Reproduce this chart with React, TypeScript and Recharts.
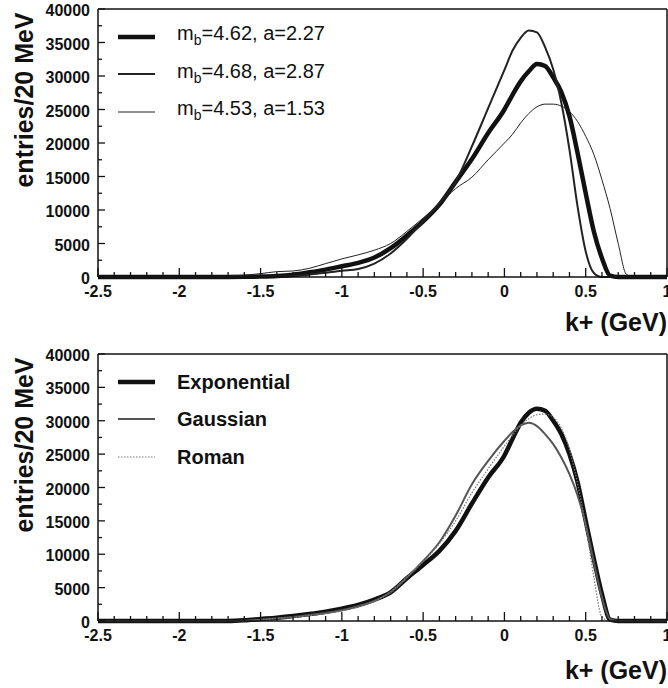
import React from "react";
import { Label, Legend, Line, LineChart, ReferenceLine, XAxis, YAxis } from "recharts";

// k+ grid (GeV) shared by every curve
const kValues = [-2.5, -2, -1.7, -1.6, -1.5, -1.4, -1.3, -1.2, -1.1, -1.0, -0.9, -0.8, -0.7, -0.6, -0.5, -0.4, -0.3, -0.2, -0.1, 0,
    0.05, 0.1, 0.15, 0.2, 0.25, 0.3, 0.35, 0.4, 0.45, 0.5, 0.55, 0.6, 0.65, 0.7, 0.75, 0.8, 1.0];

// top panel: three (m_b, a) choices
const fitA = [0, 0, 0, 20, 60, 150, 350, 700, 1100, 1600, 2100, 2900, 4300, 6200, 8300, 10800, 14200, 17600, 21500, 25000,
    27200, 29200, 30700, 31800, 31500, 29800, 27600, 24000, 18500, 12500, 6800, 2800, 200, 0, 0, 0, 0];
const fitB = [0, 0, 0, 0, 20, 60, 150, 350, 650, 950, 1200, 2000, 3500, 5700, 8300, 11000, 14200, 19500, 25200, 30900,
    33800, 35700, 36800, 36500, 34300, 31000, 26000, 19000, 10500, 3800, 600, 0, 0, 0, 0, 0, 0];
const fitC = [0, 0, 100, 250, 500, 800, 900, 1300, 2000, 2700, 3300, 4000, 5000, 6800, 8800, 10900, 13200, 14900, 17500, 20000,
    21300, 23000, 24400, 25400, 25800, 25800, 25500, 24700, 23200, 21000, 18300, 14500, 10200, 5000, 400, 0, 0];

// bottom panel: shape functions
const exponential = [0, 0, 0, 100, 300, 500, 750, 1050, 1400, 1850, 2400, 3200, 4300, 6400, 8400, 10500, 13500, 17600, 21500, 24800,
    27300, 29700, 31200, 31800, 31500, 30000, 28000, 25000, 20800, 15000, 9300, 4000, 200, 0, 0, 0, 0];
const gaussian = [0, 0, 0, 50, 200, 400, 600, 900, 1200, 1600, 2200, 3000, 4300, 6500, 9000, 11800, 15800, 20500, 24000, 27000,
    28300, 29300, 29700, 29200, 28000, 26500, 24500, 22000, 18800, 14500, 8800, 3500, 300, 0, 0, 0, 0];
const roman = [0, 0, 0, 50, 200, 400, 550, 800, 1100, 1500, 2100, 3000, 4400, 6600, 8900, 11600, 15000, 19200, 22800, 26200,
    27800, 29300, 30300, 30900, 31000, 30500, 28900, 25700, 20600, 14300, 6600, 600, 0, 0, 0, 0, 0];

const xTicks = Array.from({length: 36}, (_, i) => (i - 25) / 10);
const yTicks = Array.from({length: 17}, (_, i) => i * 2500);

const FONT = "'Liberation Sans', Arial, Helvetica, sans-serif";

type Series = {
    key: string;
    name: string;
    values: number[];
    color: string;
    width: number;
    dash?: string;
};

const topSeries: Series[] = [
    {key: "a", name: "m_b=4.62, a=2.27", values: fitA, color: "#111", width: 4.5},
    {key: "b", name: "m_b=4.68, a=2.87", values: fitB, color: "#222", width: 2},
    {key: "c", name: "m_b=4.53, a=1.53", values: fitC, color: "#222", width: 1},
];

const bottomSeries: Series[] = [
    {key: "exp", name: "Exponential", values: exponential, color: "#111", width: 4.5},
    {key: "gau", name: "Gaussian", values: gaussian, color: "#555", width: 2},
    {key: "rom", name: "Roman", values: roman, color: "#777", width: 1.2, dash: "1.5 1.5"},
];

const XTick = (props: any) => {
    const {x, y, payload} = props;
    const v = payload.value;
    const major = Math.abs(v * 2 - Math.round(v * 2)) < 1e-6;
    return (
        <g>
            <line x1={x} x2={x} y1={y} y2={y - (major ? 9 : 5)} stroke="#111" strokeWidth={1.3} />
            {major && (
                <text x={x} y={y + 20} textAnchor="middle" fontFamily={FONT} fontWeight="bold" fontSize={16} fill="#111">
                    {String(v)}
                </text>
            )}
        </g>
    );
};

const YTick = (props: any) => {
    const {x, y, payload} = props;
    const v = payload.value;
    const major = v % 5000 === 0;
    return (
        <g>
            <line x1={x} x2={x + (major ? 7 : 4)} y1={y} y2={y} stroke="#111" strokeWidth={1.3} />
            {major && (
                <text x={x - 8} y={y + 7} textAnchor="end" fontFamily={FONT} fontWeight="bold" fontSize={16} fill="#111">
                    {String(v)}
                </text>
            )}
        </g>
    );
};

const renderName = (name: string) => {
    if (!name.startsWith("m_b")) return name;
    return (
        <>
            m<sub style={{fontSize: 14}}>b</sub>{name.slice(3)}
        </>
    );
};

const makeLegend = (series: Series[], bold: boolean) => () => (
    <div>
        {series.map((s) => (
            <div key={s.key} style={{display: "flex", alignItems: "center", height: 37.5}}>
                <svg width={37} height={10}>
                    <line x1={0} x2={37} y1={5} y2={5} stroke={s.color} strokeWidth={s.width} strokeDasharray={s.dash} />
                </svg>
                <span style={{marginLeft: 22, fontSize: 20, fontFamily: FONT, fontWeight: bold ? "bold" : "normal", color: "#111", lineHeight: "20px"}}>
                    {renderName(s.name)}
                </span>
            </div>
        ))}
    </div>
);

type PanelProps = {
    series: Series[];
    height: number;
    axisHeight: number;
    titleGap: number;
    boldLegend: boolean;
};

const Panel: React.FC<PanelProps> = ({series, height, axisHeight, titleGap, boldLegend}) => {
    const data = kValues.map((k, i) => {
        const row: Record<string, number> = {k};
        series.forEach((s) => (row[s.key] = s.values[i]));
        return row;
    });
    return (
        <LineChart width={668} height={height} data={data} margin={{top: 9, right: 1, left: 0, bottom: 0}}>
            <XAxis dataKey="k" type="number" domain={[-2.5, 1]} ticks={xTicks} interval={0} height={axisHeight}
                   tickSize={0} tickMargin={0} tickLine={false} tick={<XTick />}
                   axisLine={{stroke: "#111", strokeWidth: 1.5}}>
                <Label content={(p: any) => (
                    <text x={p.viewBox.x + p.viewBox.width} y={p.viewBox.y + titleGap} textAnchor="end"
                          fontFamily={FONT} fontWeight="bold" fontSize={25} fill="#111">k+ (GeV)</text>
                )} />
            </XAxis>
            <YAxis type="number" domain={[0, 40000]} ticks={yTicks} interval={0} width={98}
                   tickSize={0} tickMargin={0} tickLine={false} tick={<YTick />}
                   axisLine={{stroke: "#111", strokeWidth: 1.5}}>
                <Label content={(p: any) => (
                    <text x={33} y={p.viewBox.y + 91} textAnchor="middle" transform={`rotate(-90, 33, ${p.viewBox.y + 91})`}
                          fontFamily={FONT} fontWeight="bold" fontSize={25} fill="#111">entries/20 MeV</text>
                )} />
            </YAxis>
            <ReferenceLine y={40000} stroke="#111" strokeWidth={1.5} />
            <ReferenceLine x={1} stroke="#111" strokeWidth={1.5} />
            {series.map((s) => (
                <Line key={s.key} type="monotone" dataKey={s.key} name={s.name} stroke={s.color} strokeWidth={s.width}
                      strokeDasharray={s.dash} dot={false} activeDot={false} isAnimationActive={false} />
            ))}
            <Legend layout="vertical" align="center" verticalAlign="middle" content={makeLegend(series, boldLegend)}
                    wrapperStyle={{left: 118, top: 18, width: "auto", height: "auto"}} />
        </LineChart>
    );
};

export default function App() {
    return (
        <div style={{position: "absolute", left: 0, top: 0, width: 668, height: 688, overflow: "hidden", background: "#fff"}}>
            <div style={{position: "absolute", left: 0, top: 0}}>
                <Panel series={topSeries} height={345} axisHeight={68} titleGap={54} boldLegend={false} />
            </div>
            <div style={{position: "absolute", left: 0, top: 345}}>
                <Panel series={bottomSeries} height={343} axisHeight={67} titleGap={58} boldLegend={true} />
            </div>
        </div>
    );
}
